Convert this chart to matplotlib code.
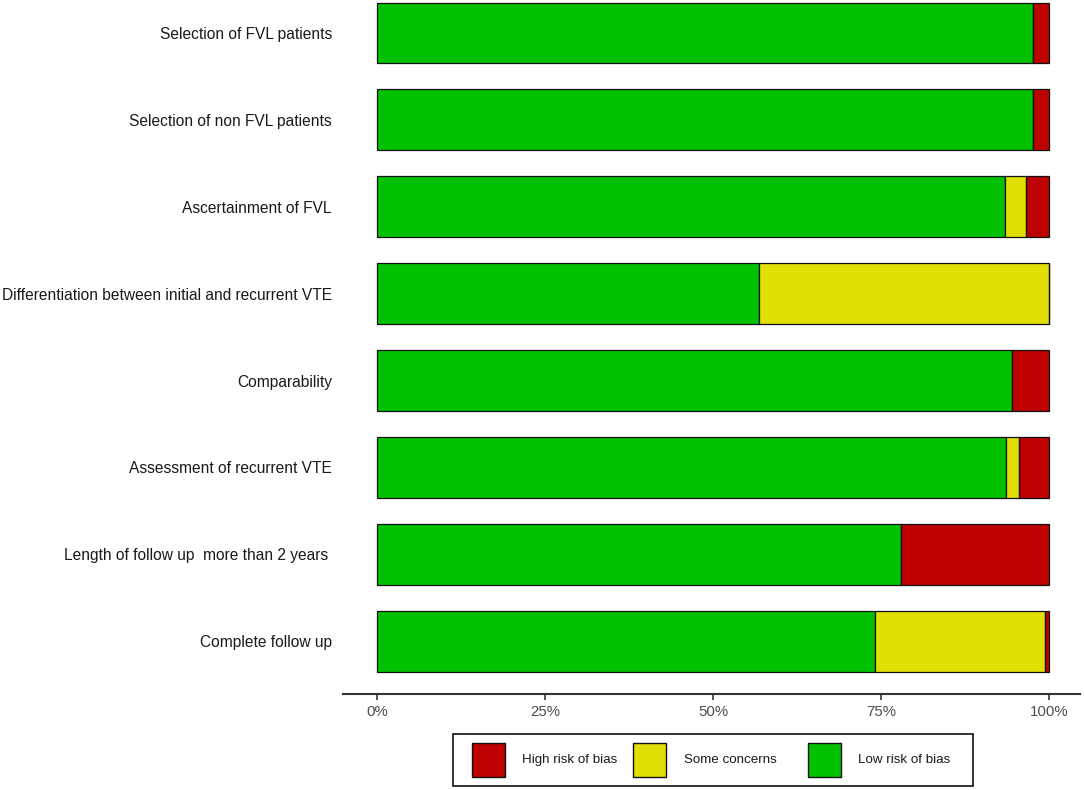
import matplotlib
matplotlib.use("Agg")
import matplotlib.pyplot as plt
from matplotlib.patches import Rectangle
import numpy as np

plt.rcParams['font.family'] = ['Liberation Sans', 'DejaVu Sans']

domains = [
    "Selection of FVL patients",
    "Selection of non FVL patients",
    "Ascertainment of FVL",
    "Differentiation between initial and recurrent VTE",
    "Comparability",
    "Assessment of recurrent VTE",
    "Length of follow up  more than 2 years ",
    "Complete follow up",
]
low = [97.6, 97.6, 93.5, 56.8, 94.5, 93.6, 78.0, 74.1]
some = [0.0, 0.0, 3.0, 43.2, 0.0, 1.9, 0.0, 25.3]
high = [2.4, 2.4, 3.5, 0.0, 5.5, 4.5, 22.0, 0.6]

legend_labels = ["High risk of bias", "Some concerns", "Low risk of bias"]
col_low = "#02C100"
col_some = "#E2DF07"
col_high = "#BF0000"

W, H = 1084, 790
fig = plt.figure(figsize=(W/100, H/100), dpi=100)
ax = fig.add_axes([343/W, 1-694/H, (1080-343)/W, 694/H])

y = np.arange(len(domains))
low_a = np.array(low)/100
some_a = np.array(some)/100
high_a = np.array(high)/100
ax.barh(y, low_a, height=0.7, color=col_low, edgecolor="#111111", linewidth=0.9)
ax.barh(y, some_a, left=low_a, height=0.7, color=col_some, edgecolor="#111111", linewidth=0.9)
ax.barh(y, high_a, left=low_a+some_a, height=0.7, color=col_high, edgecolor="#111111", linewidth=0.9)

ax.set_xlim(-0.0506, 1.046)
ax.set_ylim(7.607, -0.38)
ax.set_yticks(y)
ax.set_yticklabels(domains, fontsize=11.2, color="#1a1a1a")
ax.tick_params(axis='y', length=0, pad=8)
ax.set_xticks([0, 0.25, 0.5, 0.75, 1.0])
ax.set_xticklabels(["0%", "25%", "50%", "75%", "100%"], fontsize=10.8, color="#4D4D4D")
ax.tick_params(axis='x', length=4, width=1.2, color="#333333", pad=4)
for s in ["top", "right", "left"]:
    ax.spines[s].set_visible(False)
ax.spines["bottom"].set_linewidth(1.5)
ax.spines["bottom"].set_color("#333333")

# legend drawn in figure pixel coordinates
def px(x, yy):
    return x/W, 1-yy/H

bx, by = px(453, 786)
fig.patches.append(Rectangle((bx, by), 520/W, 52/H, transform=fig.transFigure,
                             facecolor="white", edgecolor="#111111", linewidth=1.2))
key_x = [472, 633, 808]
text_x = [522, 684, 858]
cols = [col_high, col_some, col_low]
for kx, tx, c, lab in zip(key_x, text_x, cols, legend_labels):
    x0, y0 = px(kx, 777)
    fig.patches.append(Rectangle((x0, y0), 33/W, 34/H, transform=fig.transFigure,
                                 facecolor=c, edgecolor="#111111", linewidth=1.0))
    tx0, ty0 = px(tx, 760)
    fig.text(tx0, ty0, lab, fontsize=9.6, color="#1a1a1a", ha="left", va="center")

fig.savefig("out.png", dpi=100)
